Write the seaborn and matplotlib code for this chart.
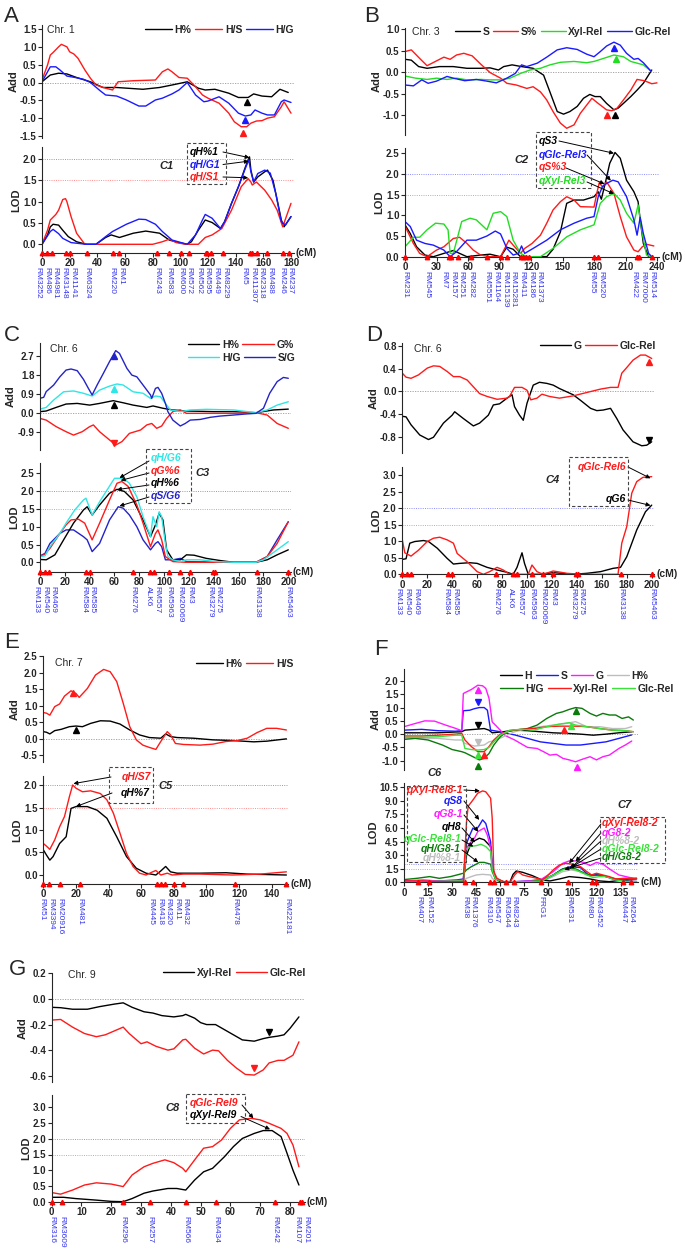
import pandas as pd
import matplotlib
matplotlib.use('Agg')
import matplotlib.pyplot as plt
import matplotlib.transforms as mtransforms
from matplotlib.patches import Rectangle
from matplotlib.lines import Line2D
import seaborn as sns

# ---------------- values (cM, value) ----------------
# Panel A - Chr. 1
A_ADD_HPCT = [(0,0.02),(6,0.21),(12,0.26),(18,0.24),(25,0.14),(35,0.02),(44,-0.14),(54,-0.14),(73,-0.19),(85,-0.14),(94,-0.07),(105,0.02),(113,-0.16),(118,-0.21),(125,-0.19),(135,-0.3),(142,-0.42),(149,-0.42),(153,-0.32),(159,-0.38),(166,-0.4),(172,-0.19),(178,-0.28)]
A_ADD_HS = [(0,0.07),(4,0.49),(6,0.77),(8,0.84),(12,1.0),(14,1.07),(18,1.0),(20,0.86),(23,0.8),(26,0.68),(31,0.35),(35,0.12),(39,-0.07),(46,-0.16),(51,-0.21),(55,0.02),(66,0.05),(82,0.07),(87,0.3),(91,0.38),(94,0.3),(99,0.14),(105,0.12),(111,-0.12),(116,-0.35),(120,-0.44),(128,-0.58),(135,-0.86),(139,-1.1),(144,-1.24),(148,-1.24),(151,-1.14),(155,-1.08),(159,-1.07),(163,-1.0),(168,-0.96),(173,-0.68),(175,-0.54),(180,-0.86)]
A_ADD_HG = [(0,0.02),(4,0.3),(6,0.44),(10,0.44),(13,0.35),(18,0.18),(24,0.14),(30,0.09),(35,0.0),(42,-0.23),(46,-0.35),(54,-0.38),(61,-0.49),(70,-0.66),(75,-0.66),(82,-0.49),(87,-0.44),(94,-0.32),(99,-0.21),(105,0.0),(111,-0.35),(117,-0.54),(120,-0.52),(128,-0.4),(135,-0.58),(142,-0.86),(147,-0.94),(151,-0.91),(154,-0.77),(159,-0.86),(163,-0.91),(168,-0.91),(173,-0.54),(175,-0.49),(180,-0.56)]
A_LOD_HPCT = [(0,0),(4,0.22),(6,0.41),(8,0.47),(12,0.45),(15,0.33),(19,0.18),(25,0.06),(32,0),(39,0),(46,0.16),(50,0.22),(56,0.16),(66,0.26),(75,0.31),(85,0.26),(92,0.1),(99,0.04),(105,0),(108,0.06),(113,0.33),(118,0.57),(123,0.51),(129,0.37),(132,0.53),(137,0.96),(142,1.35),(147,1.81),(150,2.05),(151,1.74),(153,1.46),(156,1.58),(161,1.7),(163,1.74),(167,1.5),(170,1.04),(173,0.57),(175,0.41),(180,0.65)]
A_LOD_HS = [(0,0),(4,0.33),(6,0.57),(10,0.7),(12,0.8),(15,1.05),(17,1.07),(18,1.0),(21,0.65),(25,0.26),(31,0),(60,0),(80,0),(87,0.06),(92,0.12),(97,0.04),(104,0),(113,0),(118,0.16),(123,0.22),(130,0.37),(137,0.8),(144,1.35),(149,1.54),(151,1.46),(152,1.39),(155,1.46),(161,1.27),(166,1.04),(170,0.8),(174,0.41),(180,0.96)]
A_LOD_HG = [(0,0),(4,0.2),(6,0.3),(8,0.35),(12,0.25),(15,0.14),(21,0.04),(32,0),(39,0),(46,0.18),(51,0.3),(61,0.47),(70,0.59),(75,0.58),(82,0.47),(87,0.3),(94,0.1),(105,0),(111,0.22),(116,0.57),(118,0.7),(123,0.61),(129,0.37),(132,0.53),(137,0.96),(142,1.35),(147,1.78),(149.5,1.98),(151,1.7),(153,1.46),(156,1.66),(161,1.74),(165,1.67),(169,1.19),(173,0.53),(176,0.45),(180,0.65)]
A_PEAKS = [('H%',148,-0.54,'^'),('H/G',147,-1.05,'^'),('H/S',145.5,-1.42,'^')]
A_MARKERS = ['RM3252','RM486','RM4981','RM3148','RM1141','RM6324','RM220','RM1','RM243','RM583','RM600','RM572','RM562','RM595','RM449','RM8229','RM5','RM11307','RM2318','RM488','RM246','RM237']
A_MARKER_POS = [0,3.6,7.2,17,20.5,32.6,51.5,55.6,83.4,91.8,100.3,106.3,118.4,119.6,122,130.5,150.5,152,155.3,163,174,178.8]

# Panel B - Chr. 3
B_ADD_S = [(0,0.3),(6,0.28),(13,0.13),(21,0.09),(33,0.13),(46,0.13),(59,0.09),(72,0.09),(81,0.1),(89,0.05),(94,0.13),(102,0.17),(111,0.13),(122,0.09),(132,-0.07),(138,-0.46),(145,-0.92),(151,-0.98),(157,-0.92),(164,-0.8),(170,-0.61),(176,-0.52),(181,-0.57),(186,-0.57),(192,-0.73),(199,-0.88),(203,-0.84),(208,-0.73),(215,-0.57),(221,-0.42),(227,-0.26),(235,0.05)]
B_ADD_SPCT = [(0,0.48),(6,0.52),(14,0.32),(21,0.15),(29,0.25),(37,0.35),(43,0.3),(49,0.4),(56,0.44),(64,0.38),(72,0.19),(81,-0.01),(91,-0.14),(97,-0.26),(106,-0.3),(116,-0.38),(122,-0.34),(129,-0.46),(135,-0.65),(141,-0.92),(148,-1.19),(154,-1.31),(161,-1.23),(167,-0.96),(173,-0.77),(178,-0.61),(184,-0.73),(192,-0.88),(197,-0.9),(202,-0.84),(208,-0.65),(215,-0.42),(221,-0.17),(228,-0.2),(235,-0.27),(240,-0.25)]
B_ADD_XYL = [(0,-0.09),(10,-0.14),(21,-0.17),(30,-0.14),(40,-0.17),(49,-0.14),(59,-0.18),(72,-0.17),(81,-0.18),(91,-0.18),(100,-0.14),(110,-0.03),(119,0.05),(129,0.09),(138,0.17),(148,0.23),(161,0.25),(173,0.22),(180,0.25),(189,0.32),(199,0.4),(208,0.36),(215,0.25),(221,0.21),(227,0.17),(234,0.03)]
B_ADD_GLC = [(0,-0.3),(8,-0.32),(16,-0.18),(22,-0.26),(30,-0.21),(40,-0.1),(46,-0.14),(57,-0.2),(68,-0.17),(78,-0.21),(87,-0.25),(97,-0.14),(105,-0.03),(111,0.17),(116,0.13),(126,0.21),(135,0.35),(145,0.52),(154,0.57),(164,0.53),(173,0.42),(180,0.36),(186,0.48),(192,0.61),(199,0.7),(205,0.63),(211,0.44),(218,0.3),(222,0.32),(227,0.22),(234,0.03)]
B_LOD_S = [(0,0.77),(5,0.56),(11,0.24),(19,0.04),(27,0),(37,0.08),(46,0.15),(52,0.08),(59,0),(72,0.04),(81,0.06),(91,0),(97,0.23),(103,0.18),(110,0),(135,0),(141,0.18),(148,0.6),(154,1.29),(161,1.37),(170,1.37),(180,1.45),(184,1.57),(187,1.39),(191,1.81),(195,2.26),(200,2.52),(205,2.38),(211,1.85),(218,1.57),(222,1.33),(224,0.89),(227,0.32),(232,0)]
B_LOD_SPCT = [(0,0.74),(8,0.32),(14,0.08),(21,0),(30,0.16),(37,0.24),(46,0.44),(52,0.47),(59,0.32),(65,0.16),(72,0.04),(81,0),(91,0),(99,0.4),(103,0.28),(110,0.08),(114,0.2),(121,0.32),(129,0.52),(135,0.81),(141,1.13),(148,1.33),(154,1.45),(161,1.37),(167,1.21),(180,1.2),(183,1.57),(185,1.79),(188,1.69),(192,1.81),(199,1.53),(205,0.97),(211,0.48),(218,0.16),(222,0.12),(226,0.24),(230,0.3),(237,0.26)]
B_LOD_XYL = [(0,0.24),(8,0.47),(14,0.47),(21,0.65),(29,0.81),(37,0.79),(41,0.65),(43,0.08),(46,0.08),(54,0.85),(62,0.93),(68,0.89),(78,0.65),(84,1.05),(91,1.09),(97,0.97),(103,0.4),(110,0.08),(116,0),(129,0),(141,0.2),(154,0.48),(167,0.65),(180,0.77),(186,1.29),(192,1.45),(199,1.53),(205,1.37),(211,1.05),(218,0.81),(222,1.25),(226,0.56),(230,0.04),(234,0)]
B_LOD_GLC = [(0,0.85),(5,0.73),(11,0.4),(19,0.32),(27,0.28),(37,0.16),(43,0),(49,0.12),(59,0.4),(68,0.4),(78,0.5),(86,0.62),(91,0.55),(97,0.2),(103,0.04),(108,0.08),(111,0.26),(114,0.08),(122,0.2),(135,0.4),(148,0.65),(161,0.81),(173,0.93),(180,0.97),(184,1.45),(188,1.69),(192,1.77),(198,1.85),(203,1.81),(211,1.45),(218,0.89),(221,0.52),(224,0.95),(227,0.56),(232,0.08),(235,0)]
B_PEAKS = [('Glc-Rel',199,0.57,'^'),('Xyl-Rel',201,0.3,'^'),('S%',192,-1.0,'^'),('S',200,-1.0,'^')]
B_MARKERS = ['RM231','RM545','RM7','RM157','RM251','RM282','RM5551','RM1164','RM15139','RM15281','RM411','RM186','RM1373','RM55','RM520','RM422','RM7000','RM514']
B_MARKER_POS = [0,21,42,44,50,63,78,91,97,110,112,115,118,180,184,221,223,235]

# Panel C - Chr. 6
C_ADD_HPCT = [(0,0.05),(5,0.08),(13,0.25),(21,0.41),(30,0.44),(40,0.36),(48,0.44),(59,0.57),(67,0.47),(75,0.36),(86,0.25),(91,0.32),(99,0.21),(107,0.13),(118,0.08),(140,0.05),(156,0.05),(174,0),(188,0.13),(200,0.17)]
C_ADD_GPCT = [(0,-0.27),(5,-0.35),(13,-0.66),(21,-0.9),(27,-1.06),(34,-0.9),(40,-0.66),(43,-0.58),(48,-0.9),(56,-1.29),(61,-1.53),(66,-1.37),(72,-0.98),(81,-0.82),(86,-0.58),(90,-0.51),(94,-0.74),(98,-0.63),(102,-0.27),(107,0.05),(113,0.13),(118,-0.03),(134,-0.03),(156,-0.03),(174,0),(183,-0.11),(191,-0.51),(200,-0.74)]
C_ADD_HG = [(0,0.17),(5,0.25),(11,0.6),(19,0.99),(27,1.03),(35,0.92),(42,0.79),(48,1.07),(56,1.26),(62,1.36),(67,1.31),(75,0.99),(83,0.92),(89,0.68),(93,0.79),(97,0.76),(101,0.44),(105,0.13),(113,0.05),(121,0.13),(134,0.16),(156,0.13),(174,0),(183,0.13),(191,0.36),(200,0.52)]
C_ADD_SG = [(0,0.68),(3,0.73),(5,1.0),(11,1.31),(16,1.7),(21,2.02),(25,2.07),(30,1.99),(35,1.58),(39,1.15),(42,0.84),(46,1.31),(51,1.86),(56,2.42),(61,2.94),(64,2.81),(70,2.1),(74,1.78),(78,1.7),(83,1.31),(89,0.84),(90,0.68),(93,1.15),(95,1.2),(98,0.92),(101,0.44),(103,0.05),(107,-0.35),(113,-0.63),(117,-0.51),(121,-0.35),(129,-0.32),(137,-0.22),(145,-0.16),(156,-0.11),(166,-0.06),(174,-0.03),(180,0.21),(185,0.92),(191,1.47),(196,1.67),(200,1.63)]
C_LOD_HPCT = [(0,0.08),(5,0.07),(12,0.21),(19,0.63),(27,1.1),(35,1.47),(38,1.56),(42,1.33),(48,1.61),(56,1.94),(62,2.05),(68,1.99),(75,1.75),(83,1.19),(89,0.72),(93,1.05),(96,1.38),(99,1.19),(102,0.35),(107,0.07),(113,0.07),(118,0.21),(124,0.2),(134,0.11),(145,0.05),(156,0),(174,0),(183,0.07),(191,0.21),(200,0.35)]
C_LOD_GPCT = [(0,0.16),(4,0.23),(8,0.39),(16,0.81),(21,1.05),(25,1.19),(31,1.21),(36,1.1),(42,0.63),(48,1.1),(56,1.75),(62,2.22),(66,2.27),(71,2.13),(78,1.61),(83,1.1),(89,0.44),(93,0.81),(95,0.91),(98,0.63),(101,0.16),(107,0.02),(118,0),(156,0),(174,0),(183,0.16),(191,0.53),(200,1.14)]
C_LOD_HG = [(0,0.16),(4,0.18),(8,0.44),(16,0.81),(21,1.1),(28,1.47),(35,1.75),(37,1.8),(42,1.33),(48,1.7),(54,2.03),(60,2.36),(67,2.36),(72,2.22),(78,1.84),(83,1.28),(89,0.72),(91,1.28),(94,1.0),(96,1.42),(98,1.28),(101,0.53),(103,0.16),(107,0.07),(113,0.02),(118,0.07),(129,0.07),(142,0.02),(156,0),(174,0),(180,0.07),(191,0.35),(200,0.58)]
C_LOD_SG = [(0,0.18),(4,0.25),(8,0.53),(16,0.81),(21,0.91),(27,0.91),(35,0.72),(38,0.63),(42,0.3),(48,0.53),(56,1.19),(63,1.56),(67,1.52),(72,1.33),(78,1.0),(83,0.63),(89,0.35),(93,0.53),(95,0.58),(98,0.44),(101,0.07),(107,0.07),(113,0.11),(118,0.02),(156,0),(174,0),(183,0.16),(191,0.63),(200,1.14)]
C_PEAKS = [('S/G',60,2.68,'^'),('H/G',60,1.1,'^'),('H%',60,0.36,'^'),('G%',60,-1.42,'v')]
CHR6_MARKERS = ['RM133','RM540','RM469','RM584','RM585','RM276','ALK6','RM557','RM5963','RM20069','RM3','RM3279','RM275','RM3138','RM5463']
CHR6_MARKER_POS = [0,4,7,37,40,75,89,92,104,113,121,139,141,175,200]

# Panel D - Chr. 6
D_ADD_G = [(0,-0.44),(3,-0.45),(7,-0.59),(14,-0.77),(21,-0.85),(25,-0.81),(33,-0.56),(40,-0.42),(42,-0.36),(49,-0.48),(57,-0.61),(62,-0.56),(69,-0.42),(73,-0.24),(78,-0.22),(84,-0.12),(88,-0.06),(90,-0.27),(94,-0.42),(97,-0.51),(100,-0.21),(105,0.11),(110,0.16),(116,0.14),(121,0.11),(126,0.05),(132,-0.01),(137,-0.06),(143,-0.16),(151,-0.3),(156,-0.34),(161,-0.33),(167,-0.3),(172,-0.48),(177,-0.68),(185,-0.89),(192,-0.96),(196,-0.95),(200,-0.89)]
D_ADD_GLC = [(0,0.32),(3,0.25),(7,0.23),(13,0.29),(20,0.41),(25,0.45),(30,0.44),(36,0.35),(41,0.26),(46,0.26),(52,0.2),(57,0.08),(62,-0.04),(68,-0.09),(76,-0.14),(84,-0.12),(86,-0.09),(90,0.07),(96,0.07),(100,0.02),(103,-0.15),(108,-0.12),(112,-0.05),(118,-0.09),(126,-0.12),(137,-0.08),(148,-0.02),(159,0.04),(167,0.07),(173,0.07),(176,0.32),(180,0.42),(185,0.55),(191,0.64),(195,0.64),(200,0.58)]
D_LOD_G = [(0,0.45),(3,0.47),(6,0.94),(10,0.99),(17,1.02),(21,0.99),(28,0.79),(36,0.48),(41,0.31),(46,0.33),(54,0.35),(60,0.33),(68,0.21),(76,0.13),(84,0.06),(89,0),(92,0.21),(96,0.65),(98,0.33),(101,0),(110,0),(121,0.05),(137,0),(148,0.03),(159,0.08),(169,0.18),(175,0.21),(180,0.53),(188,1.34),(195,1.89),(200,2.09)]
D_LOD_GLC = [(0,1.04),(2,0.65),(7,0.55),(13,0.73),(20,0.99),(25,1.09),(30,1.12),(36,1.04),(41,0.94),(44,0.63),(52,0.38),(60,0.08),(65,0),(70,0.08),(76,0.21),(81,0.13),(86,0),(101,0),(104,0.28),(108,0.08),(113,0),(121,0.1),(132,0.03),(143,0),(173,0),(176,0.94),(180,1.44),(184,2.45),(188,2.8),(193,2.93),(200,2.95)]
D_PEAKS = [('Glc-Rel',198,0.52,'^'),('G',198,-0.85,'v')]

# Panel E - Chr. 7
E_ADD_HPCT = [(0,0.21),(2,0.19),(4,0.14),(7,0.24),(11,0.28),(16,0.36),(20,0.38),(24,0.36),(29,0.46),(35,0.54),(41,0.53),(47,0.44),(53,0.26),(59,0.11),(65,0.03),(72,0.01),(75,0.14),(78,0.06),(82,0.03),(92,0.01),(104,-0.04),(116,-0.06),(129,-0.1),(137,-0.08),(149,-0.01)]
E_ADD_HS = [(0,0.79),(2,0.77),(4,0.71),(7,0.97),(10,1.05),(13,1.29),(17,1.45),(20,1.37),(22,1.25),(27,1.52),(32,1.93),(37,2.1),(41,2.03),(45,1.73),(49,1.07),(53,0.36),(57,-0.04),(61,-0.2),(65,-0.27),(69,-0.33),(72,-0.09),(76,0.21),(78,0.11),(81,-0.15),(86,-0.18),(96,-0.2),(104,-0.17),(112,-0.09),(119,-0.06),(125,0.01),(131,0.18),(137,0.31),(143,0.31),(149,0.26)]
E_LOD_HPCT = [(0,0.56),(2,0.44),(4,0.33),(6,0.41),(10,0.7),(14,0.85),(17,1.48),(20,1.52),(27,1.52),(33,1.44),(39,1.26),(45,0.85),(51,0.41),(57,0.15),(63,0.04),(69,0),(72,0.09),(75,0.19),(78,0.07),(82,0.04),(96,0.04),(112,0.05),(125,0.02),(149,0)]
E_LOD_HS = [(0,0.7),(2,0.64),(4,0.57),(7,0.78),(10,1.07),(13,1.3),(16,1.74),(18,2.0),(20,1.93),(24,1.85),(29,1.87),(35,1.81),(39,1.67),(43,1.37),(47,0.93),(51,0.48),(55,0.19),(59,0.04),(63,0),(67,0.07),(69,0.1),(72,0),(76,0.04),(79,0),(86,0.02),(96,0.02),(116,0),(133,0.02),(149,0.07)]
E_PEAKS = [('H/S',18,1.37,'^'),('H%',20,0.26,'^')]
E_MARKERS = ['RM51','RM3394','RM20916','RM481','RM445','RM418','RM320','RM11','RM432','RM478','RM22181']
E_MARKER_POS = [0,3.7,10.2,22.5,69.5,72.1,74.6,80.3,85.8,117.5,149]

# Panel F - Chr. 8
F_ADD_H = [(0,0.05),(21,0.05),(36,0.09),(38,0.15),(44,0.18),(50,0.21),(53,0.15),(55,0.05),(62,0.09),(69,0.15),(77,0.13),(85,0.09),(93,0.05),(101,0.03),(110,0.0),(118,-0.04),(126,0.0),(134,0.05),(142,0.09)]
F_ADD_S = [(0,0.15),(11,0.18),(21,0.13),(32,0.11),(36,0.13),(37,0.88),(41,0.9),(44,0.96),(47,1.0),(50,1.0),(52,0.9),(54,0.15),(60,0.09),(69,-0.03),(77,-0.16),(85,-0.29),(93,-0.35),(101,-0.41),(110,-0.41),(118,-0.35),(126,-0.29),(134,-0.16),(142,-0.03)]
F_ADD_G = [(0,0.28),(7,0.4),(13,0.5),(19,0.49),(26,0.34),(32,0.22),(36,0.13),(37,1.53),(39,1.59),(42,1.68),(46,1.84),(49,1.82),(51,1.72),(53,1.35),(55,0.46),(57,0.34),(60,0.15),(63,-0.05),(69,-0.22),(77,-0.5),(83,-0.54),(87,-0.66),(91,-0.79),(95,-0.76),(99,-0.91),(103,-0.97),(107,-1.04),(111,-0.95),(116,-0.85),(120,-0.97),(124,-0.85),(128,-0.79),(134,-0.54),(138,-0.41),(142,-0.26)]
F_ADD_HPCT = [(0,-0.16),(11,-0.16),(21,-0.16),(32,-0.22),(36,-0.22),(38,-0.35),(44,-0.45),(50,-0.41),(53,-0.29),(56,-0.25),(62,-0.1),(69,0.09),(77,0.21),(85,0.28),(93,0.34),(101,0.4),(107,0.47),(114,0.28),(122,0.28),(130,0.21),(138,0.21),(142,0.28)]
F_ADD_HG = [(0,-0.2),(7,-0.16),(15,-0.22),(24,-0.41),(30,-0.58),(36,-0.66),(38,-0.7),(43,-0.85),(47,-0.97),(50,-0.91),(53,-0.73),(56,-0.41),(60,-0.1),(64,0.09),(69,0.15),(77,0.21),(83,0.34),(89,0.59),(95,0.78),(99,0.84),(103,0.93),(107,1.0),(111,0.97),(116,0.78),(120,0.68),(124,0.78),(128,0.72),(132,0.72),(136,0.59),(140,0.65),(143,0.53)]
F_ADD_XYL = [(0,-0.07),(11,-0.07),(21,-0.04),(32,0.0),(36,0.03),(38,-0.22),(42,-0.47),(46,-0.66),(50,-0.66),(53,-0.47),(56,-0.22),(60,0.0),(66,0.13),(73,0.18),(81,0.21),(89,0.28),(97,0.3),(107,0.3),(114,0.28),(122,0.21),(130,0.15),(138,0.13),(143,0.09)]
F_ADD_GLC = [(0,-0.12),(11,-0.12),(21,-0.1),(32,-0.04),(36,-0.04),(38,-0.54),(42,-0.58),(46,-0.6),(50,-0.58),(53,-0.5),(56,-0.29),(60,-0.04),(66,0.15),(73,0.18),(81,0.15),(89,0.28),(97,0.38),(103,0.43),(107,0.34),(114,0.28),(122,0.21),(130,0.15),(138,0.13),(143,0.09)]
F_LOD_H = [(0,0.15),(33,0.15),(37,0.15),(39,3.0),(41,3.95),(43,4.5),(47,4.87),(50,4.7),(54,3.95),(55,1.73),(57,0.44),(60,0.07),(66,0),(68,0.88),(70,1.25),(74,1.1),(80,0.74),(86,0.26),(91,0.15),(97,0.37),(103,0.63),(110,0.52),(116,0.37),(122,0.15),(128,0.07),(137,0.26),(145,0.44)]
F_LOD_S = [(0,0.15),(12,0.22),(22,0.15),(33,0.26),(37,0.37),(39,4.3),(41,5.2),(43,6.0),(45,5.8),(47,6.3),(49,6.9),(51,6.5),(54,4.5),(55,1.9),(57,0.44),(62,0.07),(70,0.07),(78,0.15),(86,0.15),(93,0.81),(99,1.48),(104,1.73),(110,1.62),(115,0.81),(120,0.88),(126,0.63),(132,0.26),(139,0.15),(145,0.07)]
F_LOD_G = [(0,0.15),(12,0.22),(22,0.15),(33,0.18),(37,0.26),(39,3.76),(41,4.3),(44,4.9),(46,5.6),(48,5.8),(50,6.0),(52,5.2),(54,3.76),(55,1.55),(57,0.37),(62,0.07),(70,0.07),(78,0.15),(86,0.37),(93,1.18),(99,2.1),(103,2.36),(107,2.36),(112,2.2),(116,1.85),(120,2.2),(124,2.0),(129,1.37),(134,0.81),(141,0.52),(145,0.44)]
F_LOD_HPCT = [(0,0.07),(33,0.15),(37,0.15),(39,0.44),(42,0.63),(45,0.81),(49,0.88),(54,0.81),(55,0.44),(57,0.15),(62,0.07),(86,0.07),(93,0.63),(99,1.18),(104,1.37),(110,1.18),(116,0.74),(122,0.81),(128,0.52),(137,0.26),(145,0.26)]
F_LOD_HG = [(0,0.3),(8,0.44),(16,0.63),(22,0.44),(29,0.63),(33,0.81),(37,1.0),(39,1.37),(42,1.73),(45,2.0),(47,2.2),(50,2.2),(54,2.0),(55,1.18),(57,0.37),(62,0.07),(78,0.07),(86,0.22),(93,0.81),(99,1.48),(103,1.62),(107,1.48),(114,0.88),(118,0.74),(122,0.81),(126,0.63),(132,0.37),(139,0.26),(145,0.37)]
F_LOD_XYL = [(0,0.15),(12,0.15),(22,0.07),(33,0.07),(37,0.07),(39,6.7),(40,8.4),(43,9.1),(46,9.85),(49,10.1),(51,10.0),(54,9.3),(55,7.1),(56,1.2),(58,0.44),(62,0.07),(66,0),(69,0.81),(71,1.18),(74,0.81),(78,0.63),(83,0.44),(86,0.26),(89,0.63),(93,1.37),(97,1.92),(101,2.1),(105,2.0),(110,1.73),(114,1.18),(117,0.81),(120,1.0),(124,0.81),(128,0.63),(132,0.37),(137,0.44),(141,0.44),(145,0.37)]
F_LOD_GLC = [(0,0.07),(12,0.07),(33,0.15),(37,0.15),(39,3.6),(41,3.95),(45,4.05),(48,4.2),(51,3.95),(54,3.4),(55,1.37),(57,0.37),(62,0.07),(78,0.07),(86,0.15),(93,0.81),(99,1.37),(103,1.55),(107,1.37),(114,0.81),(118,0.52),(122,0.63),(126,0.63),(132,0.26),(139,0.07),(145,0.07)]
F_PEAKS = [('G',46,1.65,'^'),('S',46,1.2,'v'),('H',46,0.34,'v'),('H%',46,-0.29,'v'),('Glc-Rel',46,-0.79,'^'),('Xyl-Rel',50,-0.79,'^'),('H/G',46,-1.2,'^'),('Xyl-Rel',100,0.15,'^'),('Glc-Rel',104,0.3,'^'),('H/G',107,0.87,'^'),('G',108,-1.25,'^')]
F_MARKERS = ['RM407','RM152','RM38','RM1376','RM310','RM547','RM3644','RM8243','FRG1','RM531','RM80','RM3452','RM447','RM264']
F_MARKER_POS = [9,15.5,38,43,53.5,56,63.5,68.5,85.5,102.5,117,119.5,136.5,141.5]

# Panel G - Chr. 9
G_ADD_XYL = [(0,-0.065),(3,-0.068),(7,-0.08),(12,-0.08),(16,-0.06),(21,-0.04),(24,-0.03),(27,-0.065),(31,-0.1),(34,-0.11),(37,-0.13),(41,-0.14),(44,-0.13),(45,-0.12),(48,-0.15),(50,-0.185),(52,-0.2),(55,-0.2),(58,-0.24),(61,-0.28),(64,-0.32),(68,-0.33),(71,-0.31),(73,-0.3),(76,-0.29),(78,-0.28),(80,-0.23),(83,-0.14)]
G_ADD_GLC = [(0,-0.165),(3,-0.16),(7,-0.22),(11,-0.27),(15,-0.295),(18,-0.28),(22,-0.24),(24,-0.22),(26,-0.27),(30,-0.35),(32,-0.335),(35,-0.37),(39,-0.4),(41,-0.39),(44,-0.32),(45,-0.315),(48,-0.385),(51,-0.43),(54,-0.4),(56,-0.405),(59,-0.48),(62,-0.54),(65,-0.59),(68,-0.595),(71,-0.555),(73,-0.5),(76,-0.48),(78,-0.48),(81,-0.44),(83,-0.335)]
G_LOD_XYL = [(0,0.14),(4,0.14),(8,0.1),(15,0.05),(20,0.01),(24,0),(27,0.1),(31,0.27),(34,0.34),(39,0.42),(42,0.42),(45,0.37),(48,0.69),(51,0.95),(54,1.06),(58,1.43),(61,1.75),(64,2.01),(68,2.17),(71,2.26),(74,2.26),(77,2.07),(79,1.54),(81,1.0),(83,0.53)]
G_LOD_GLC = [(0,0.29),(3,0.24),(7,0.37),(11,0.53),(15,0.6),(20,0.56),(24,0.48),(27,0.85),(31,1.11),(34,1.22),(38,1.33),(41,1.24),(44,1.06),(45,0.95),(48,1.33),(51,1.7),(54,1.75),(57,1.96),(60,2.33),(63,2.6),(67,2.65),(70,2.6),(73,2.49),(77,2.33),(79,2.17),(81,1.8),(83,1.11)]
G_PEAKS = [('Xyl-Rel',73,-0.26,'v'),('Glc-Rel',68,-0.54,'v')]
G_MARKERS = ['RM316','RM3609','RM296','RM257','RM566','RM434','RM242','RM107','RM201']
G_MARKER_POS = [0,3.5,24,33,45,55,75,83.5,84]

# ---------------- styling ----------------
sns.set_style('ticks')
plt.rcParams['font.family'] = ['Liberation Sans', 'DejaVu Sans']
plt.rcParams['axes.linewidth'] = 0.8

RED, BLUE, GREEN = '#ff1a1a', '#1a1aff', '#22dd22'
CYAN, NAVY, MAG = '#2ee6e6', '#2323c8', '#ff1aff'
GRAY, DGREEN, LGREEN = '#bdbdbd', '#0a7a0a', '#3ae23a'
MK_BLUE = '#3535ee'
TICK_FS = 7

W, H = 685, 1250
fig = plt.figure(figsize=(W / 100, H / 100), dpi=100)
PX = mtransforms.Affine2D().scale(1 / W, -1 / H).translate(0, 1) + fig.transFigure


def place(xcal, ycal, xlim, ylim):
    px0, v0, px1, v1 = xcal
    sx = (px1 - px0) / (v1 - v0)
    left, right = px0 + (xlim[0] - v0) * sx, px0 + (xlim[1] - v0) * sx
    py0, w0, py1, w1 = ycal
    sy = (py1 - py0) / (w1 - w0)
    top, bottom = py0 + (ylim[1] - w0) * sy, py0 + (ylim[0] - w0) * sy
    ax = fig.add_axes([left / W, 1 - bottom / H, (right - left) / W, (bottom - top) / H])
    return ax, sx, bottom


def curve(ax, pts, color, lw=1.0):
    d = pd.DataFrame(pts, columns=['cM', 'val'])
    sns.lineplot(data=d, x='cM', y='val', color=color, linewidth=lw,
                 estimator=None, sort=False, ax=ax)


def spread(pos, gap):
    p = list(pos)
    for _ in range(400):
        moved = False
        for i in range(len(p) - 1):
            d = p[i + 1] - p[i]
            if d < gap - 1e-6:
                s = (gap - d) / 2
                p[i] -= s
                p[i + 1] += s
                moved = True
        if not moved:
            break
    return p


def draw_panel(letter, letter_xy, chrom, chrom_xy, xcal, xlim, xticks,
               add_cal, add_ylim, add_ticks, lod_cal, lod_ylim, lod_ticks,
               add_series, lod_series, colors, peaks, markers, marker_pos):
    ax1, sx, _ = place(xcal, add_cal, xlim, add_ylim)
    ax2, _, lod_bottom = place(xcal, lod_cal, xlim, lod_ylim)

    ax1.axhline(0, color='#9a9a9a', lw=0.6, ls=(0, (1.5, 1.5)), zorder=0)
    for name, pts in add_series:
        curve(ax1, pts, colors[name])
    for name, x, y, m in peaks:
        ax1.plot([x], [y], marker=m, color=colors[name], ms=4.5, ls='none', clip_on=False, zorder=6)
    ax1.set_xlim(xlim)
    ax1.set_ylim(add_ylim)
    for s in ['top', 'right', 'bottom']:
        ax1.spines[s].set_visible(False)
    ax1.set_xticks([])
    ax1.set_yticks(add_ticks)
    ax1.set_yticklabels(['%.1f' % t for t in add_ticks], fontweight='bold', fontsize=TICK_FS)
    ax1.tick_params(axis='y', length=3, width=0.8, pad=1)
    ax1.set_xlabel('')
    ax1.set_ylabel('Add', fontweight='bold', fontsize=8, labelpad=1)
    ax1.patch.set_alpha(0)

    ax2.axhline(2.0, color='#8080ff', lw=0.6, ls=(0, (1.2, 1.5)), zorder=0)
    ax2.axhline(1.5, color='#ff8080', lw=0.6, ls=(0, (1.2, 1.5)), zorder=0)
    for name, pts in lod_series:
        curve(ax2, pts, colors[name])
    ax2.set_xlim(xlim)
    ax2.set_ylim(lod_ylim)
    for s in ['top', 'right']:
        ax2.spines[s].set_visible(False)
    ax2.set_xticks(xticks)
    ax2.set_xticklabels([str(t) for t in xticks], fontweight='bold', fontsize=TICK_FS)
    ax2.set_yticks(lod_ticks)
    ax2.set_yticklabels(['%.1f' % t for t in lod_ticks], fontweight='bold', fontsize=TICK_FS)
    ax2.tick_params(length=3, width=0.8, pad=1)
    ax2.set_xlabel('')
    ax2.set_ylabel('LOD', fontweight='bold', fontsize=8, labelpad=1)
    ax2.patch.set_alpha(0)
    ax2.annotate('(cM)', xy=(1, 0), xycoords='axes fraction', xytext=(1.5, 0),
                 textcoords='offset points', ha='left', va='center', fontsize=7.5, fontweight='bold')

    # markers on the linkage map
    ax2.plot(marker_pos, [lod_ylim[0]] * len(marker_pos), '^', color='red', ms=3.2,
             clip_on=False, zorder=7)
    lab = spread(marker_pos, 8.6 / sx)
    bt = mtransforms.blended_transform_factory(ax2.transData, PX)
    for x, n in zip(lab, markers):
        ax2.text(x, lod_bottom + 14, n, transform=bt, rotation=270, ha='center', va='top',
                 fontsize=6, color=MK_BLUE)

    fig.text(letter_xy[0], letter_xy[1], letter, transform=PX, fontsize=16, va='baseline')
    if chrom:
        fig.text(chrom_xy[0], chrom_xy[1], chrom, transform=PX, fontsize=7.5, va='center')
    return ax1, ax2


def legend(entries, colors, x, y, hl=2.6):
    handles = [Line2D([], [], color=colors[n], lw=1.0) for n in entries]
    fig.legend(handles, entries, loc='center left', bbox_to_anchor=(x, y), bbox_transform=PX,
               ncol=len(entries), frameon=False, handlelength=hl, handletextpad=0.25,
               columnspacing=0.35, borderpad=0, borderaxespad=0,
               prop={'weight': 'bold', 'size': 7.5})


def qtl(ax, box, tag, tag_xy, items):
    x0, y0, x1, y1 = box
    fig.add_artist(Rectangle((x0, y0), x1 - x0, y1 - y0, transform=PX, fill=False,
                             ec='#444444', lw=0.8, ls=(0, (3, 2))))
    fig.text(tag_xy[0], tag_xy[1], tag, transform=PX, ha='center', va='center',
             fontsize=8, fontweight='bold', style='italic')
    for text, color, tx, ty, ha, src, dst in items:
        fig.text(tx, ty, text, transform=PX, ha=ha, va='center', color=color,
                 fontsize=7.5, fontweight='bold', style='italic')
        if dst is not None:
            ax.annotate('', xy=dst, xycoords='data', xytext=src, textcoords=PX,
                        arrowprops=dict(arrowstyle='-|>', color='black', lw=0.7,
                                        mutation_scale=6, shrinkA=0, shrinkB=0))


# ---------------- panel A ----------------
colA = {'H%': 'black', 'H/S': RED, 'H/G': BLUE}
a1, a2 = draw_panel('A', (4, 22), 'Chr. 1', (47, 30), (42, 0, 291, 180), (0, 182), list(range(0, 181, 20)),
                    (29, 1.5, 136, -1.5), (-1.55, 1.6), [-1.5, -1.0, -0.5, 0.0, 0.5, 1.0, 1.5],
                    (159, 2.0, 244.3, 0), (-0.2, 2.28), [0, 0.5, 1.0, 1.5, 2.0],
                    [('H%', A_ADD_HPCT), ('H/S', A_ADD_HS), ('H/G', A_ADD_HG)],
                    [('H%', A_LOD_HPCT), ('H/S', A_LOD_HS), ('H/G', A_LOD_HG)],
                    colA, A_PEAKS, A_MARKERS, A_MARKER_POS)
legend(['H%', 'H/S', 'H/G'], colA, 145, 30)
qtl(a2, (187, 143, 226, 184), 'C1', (167, 166), [
    ('qH%1', 'black', 190, 152, 'left', (223, 152), (150, 2.03)),
    ('qH/G1', BLUE, 190, 164.5, 'left', (223, 164.5), (149.5, 1.95)),
    ('qH/S1', RED, 190, 177, 'left', (223, 177), (149, 1.56))])

# ---------------- panel B ----------------
colB = {'S': 'black', 'S%': RED, 'Xyl-Rel': GREEN, 'Glc-Rel': BLUE}
b1, b2 = draw_panel('B', (364, 22), 'Chr. 3', (412, 32), (405, 0, 657, 240), (0, 242), list(range(0, 241, 30)),
                    (29.3, 1.0, 115, -1.0), (-1.47, 1.03), [-1.0, -0.5, 0.0, 0.5, 1.0],
                    (153.3, 2.5, 256.7, 0), (0, 2.62), [0, 0.5, 1.0, 1.5, 2.0, 2.5],
                    [('S', B_ADD_S), ('S%', B_ADD_SPCT), ('Xyl-Rel', B_ADD_XYL), ('Glc-Rel', B_ADD_GLC)],
                    [('S', B_LOD_S), ('S%', B_LOD_SPCT), ('Xyl-Rel', B_LOD_XYL), ('Glc-Rel', B_LOD_GLC)],
                    colB, B_PEAKS, B_MARKERS, B_MARKER_POS)
legend(['S', 'S%', 'Xyl-Rel', 'Glc-Rel'], colB, 455, 32, hl=2.4)
qtl(b2, (536, 132, 591, 188), 'C2', (522, 160), [
    ('qS3', 'black', 539, 141, 'left', (559, 141), (199, 2.5)),
    ('qGlc-Rel3', BLUE, 539, 154.5, 'left', (587, 155), (196, 1.84)),
    ('qS%3', RED, 539, 167.5, 'left', (566, 168), (190, 1.76)),
    ('qXyl-Rel3', GREEN, 539, 181, 'left', (587, 182), (199, 1.52))])

# ---------------- panel C ----------------
colC = {'H%': 'black', 'G%': RED, 'H/G': CYAN, 'S/G': NAVY}
c1, c2 = draw_panel('C', (4, 341), 'Chr. 6', (50, 349), (40, 0, 288.3, 200), (0, 202), list(range(0, 201, 20)),
                    (355.7, 2.7, 431.7, -0.9), (-1.77, 3.3), [-0.9, 0.0, 0.9, 1.8, 2.7],
                    (473.3, 2.5, 562.3, 0), (-0.26, 2.78), [0, 0.5, 1.0, 1.5, 2.0, 2.5],
                    [('H%', C_ADD_HPCT), ('G%', C_ADD_GPCT), ('H/G', C_ADD_HG), ('S/G', C_ADD_SG)],
                    [('S/G', C_LOD_SG), ('H%', C_LOD_HPCT), ('G%', C_LOD_GPCT), ('H/G', C_LOD_HG)],
                    colC, C_PEAKS, CHR6_MARKERS, CHR6_MARKER_POS)
legend(['H%', 'G%'], colC, 188, 345, hl=3.0)
legend(['H/G', 'S/G'], colC, 188, 358, hl=3.0)
qtl(c2, (146, 449, 191, 503), 'C3', (203, 473), [
    ('qH/G6', CYAN, 151, 458, 'left', (149, 461), (64, 2.37)),
    ('qG%6', RED, 151, 471.5, 'left', (149, 473), (65, 2.3)),
    ('qH%6', 'black', 151, 483.5, 'left', (149, 485), (62, 2.04)),
    ('qS/G6', NAVY, 151, 496, 'left', (149, 497), (64, 1.58))])

# ---------------- panel D ----------------
colD = {'G': 'black', 'Glc-Rel': RED}
d1, d2 = draw_panel('D', (366, 341), 'Chr. 6', (414, 349), (402.3, 0, 651.7, 200), (0, 202), list(range(0, 201, 20)),
                    (346, 0.8, 436.7, -0.8), (-1.09, 0.85), [-0.8, -0.4, 0.0, 0.4, 0.8],
                    (475, 3.0, 574.3, 0), (0, 3.25), [0, 0.5, 1.0, 1.5, 2.0, 2.5, 3.0],
                    [('G', D_ADD_G), ('Glc-Rel', D_ADD_GLC)],
                    [('G', D_LOD_G), ('Glc-Rel', D_LOD_GLC)],
                    colD, D_PEAKS, CHR6_MARKERS, CHR6_MARKER_POS)
legend(['G', 'Glc-Rel'], colD, 540, 346, hl=3.0)
qtl(d2, (569, 457, 628, 506), 'C4', (553, 480), [
    ('qGlc-Rel6', RED, 626, 467, 'right', (628, 467), (199, 2.9)),
    ('qG6', 'black', 626, 499.5, 'right', (628, 500), (199, 2.08))])

# ---------------- panel E ----------------
colE = {'H%': 'black', 'H/S': RED}
e1, e2 = draw_panel('E', (4, 648), 'Chr. 7', (55, 663), (43.3, 0, 271.7, 140), (0, 150), list(range(0, 141, 20)),
                    (672.7, 2.0, 755, -0.5), (-0.7, 2.5), [-0.5, 0.0, 0.5, 1.0, 1.5, 2.0, 2.5],
                    (785, 2.0, 875, 0), (-0.19, 2.19), [0, 0.5, 1.0, 1.5, 2.0],
                    [('H%', E_ADD_HPCT), ('H/S', E_ADD_HS)],
                    [('H%', E_LOD_HPCT), ('H/S', E_LOD_HS)],
                    colE, E_PEAKS, E_MARKERS, E_MARKER_POS)
legend(['H%', 'H/S'], colE, 196, 664)
qtl(e2, (109, 767, 153, 803), 'C5', (166, 786), [
    ('qH/S7', RED, 151, 777, 'right', (111, 777), (18.5, 2.03)),
    ('qH%7', 'black', 150, 793, 'right', (112, 793), (20, 1.52))])

# ---------------- panel F ----------------
colF = {'H': 'black', 'S': BLUE, 'G': MAG, 'H%': GRAY, 'H/G': DGREEN, 'Xyl-Rel': RED, 'Glc-Rel': LGREEN}
f1, f2 = draw_panel('F', (374, 655), None, None, (404, 0, 620.5, 135), (0, 146), list(range(0, 136, 15)),
                    (681, 2.0, 760.7, -1.0), (-1.35, 2.45), [-1.0, -0.5, 0.0, 0.5, 1.0, 1.5, 2.0],
                    (787.3, 10.5, 882.3, 0), (0, 11), [0, 1.5, 3.0, 4.5, 6.0, 7.5, 9.0, 10.5],
                    [('H', F_ADD_H), ('S', F_ADD_S), ('G', F_ADD_G), ('H%', F_ADD_HPCT),
                     ('H/G', F_ADD_HG), ('Xyl-Rel', F_ADD_XYL), ('Glc-Rel', F_ADD_GLC)],
                    [('H%', F_LOD_HPCT), ('H', F_LOD_H), ('S', F_LOD_S), ('G', F_LOD_G),
                     ('H/G', F_LOD_HG), ('Glc-Rel', F_LOD_GLC), ('Xyl-Rel', F_LOD_XYL)],
                    colF, F_PEAKS, F_MARKERS, F_MARKER_POS)
legend(['H', 'S', 'G', 'H%'], colF, 500, 676, hl=2.1)
legend(['H/G', 'Xyl-Rel', 'Glc-Rel'], colF, 500, 689, hl=2.2)
qtl(f2, (406.7, 785.7, 466, 862.3), 'C6', (435, 772.7), [
    ('qXyl-Rel8-1', RED, 463, 790, 'right', (464, 790), (47.3, 10.1)),
    ('qS8', BLUE, 463, 800.5, 'right', (464, 801), (46.9, 6.9)),
    ('qG8-1', MAG, 463, 814, 'right', (464, 815), (46.3, 5.6)),
    ('qH8', 'black', 461, 826.5, 'right', (462, 828), (44.2, 4.4)),
    ('qGlc-Rel8-1', LGREEN, 461, 839.5, 'right', (462, 840), (43.2, 3.95)),
    ('qH/G8-1', DGREEN, 461, 849.5, 'right', (462, 850), (46.3, 2.2)),
    ('qH%8-1', GRAY, 461, 858, 'right', None, None)])
qtl(f2, (600, 816.7, 665, 862.7), 'C7', (625, 805), [
    ('qXyl-Rel8-2', RED, 602, 823.3, 'left', (601, 824), (103, 2.1)),
    ('qG8-2', MAG, 602, 832.7, 'left', (601, 833), (107, 2.3)),
    ('qH%8-2', GRAY, 602, 840.5, 'left', (601, 841), (104, 1.6)),
    ('qGlc-Rel8-2', LGREEN, 602, 848.5, 'left', (601, 849), (103, 1.5)),
    ('qH/G8-2', DGREEN, 602, 857.3, 'left', (601, 858), (100, 1.4))])

# ---------------- panel G ----------------
colG = {'Xyl-Rel': 'black', 'Glc-Rel': RED}
g1, g2 = draw_panel('G', (9, 975), 'Chr. 9', (68, 975), (51.7, 0, 290, 80), (0, 85), list(range(0, 81, 10)),
                    (999, 0.0, 1075.7, -0.6), (-0.65, 0.2), [-0.6, -0.4, -0.2, 0.0, 0.2],
                    (1107.3, 3.0, 1201.7, 0), (0, 3.4), [0, 0.5, 1.0, 1.5, 2.0, 2.5, 3.0],
                    [('Xyl-Rel', G_ADD_XYL), ('Glc-Rel', G_ADD_GLC)],
                    [('Xyl-Rel', G_LOD_XYL), ('Glc-Rel', G_LOD_GLC)],
                    colG, G_PEAKS, G_MARKERS, G_MARKER_POS)
legend(['Xyl-Rel', 'Glc-Rel'], colG, 163, 973, hl=3.0)
qtl(g2, (186, 1094, 245, 1123), 'C8', (173, 1108), [
    ('qGlc-Rel9', RED, 190, 1103.3, 'left', (242, 1105), (67.7, 2.65)),
    ('qXyl-Rel9', 'black', 190, 1115, 'left', (241, 1116.5), (73.3, 2.3))])

fig.savefig('out.png', dpi=100)
